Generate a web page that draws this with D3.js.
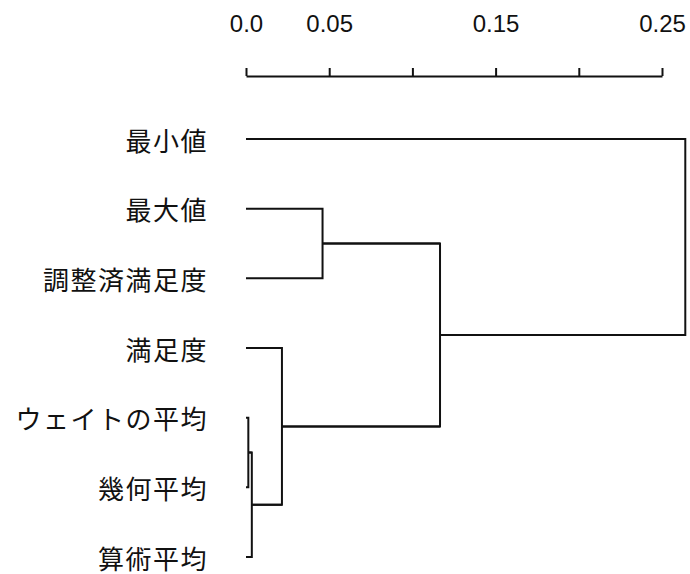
<!DOCTYPE html>
<html>
<head>
<meta charset="utf-8">
<script src="https://cdn.jsdelivr.net/npm/d3@7"></script>
<style>
  body { margin: 0; background: #fff; }
  svg { display: block; }
</style>
</head>
<body>
<svg id="chart"></svg>
<script>
// 葉（上から順）
const leaves = ['最小値', '最大値', '調整済満足度', '満足度', 'ウェイトの平均', '幾何平均', '算術平均'];

// 結合: [左, 右, 新しいクラスタ名]
const merges = [
  ['ウェイトの平均', '幾何平均', 'D'],
  ['D', '算術平均', 'E'],
  ['満足度', 'E', 'C'],
  ['最大値', '調整済満足度', 'A'],
  ['A', 'C', 'B'],
  ['最小値', 'B', 'root']
];
// 結合の高さ（距離）
const mergeHeights = [0.0014, 0.0035, 0.0216, 0.046, 0.1166, 0.264];

// 目盛り
const tickValues = [0, 0.05, 0.10, 0.15, 0.20, 0.25];
const tickLabels = ['0.0', '0.05', '', '0.15', '', '0.25'];

const ancho = 690, alto = 574;
const svg = d3.select('#chart').attr('width', ancho).attr('height', alto);

// スケール
const escalaX = d3.scaleLinear().domain([0, 0.25]).range([246, 662]);
const escalaY = d3.scalePoint().domain(leaves).range([139, 557]);

// ツリーを組み立てる
const nodos = {};
leaves.forEach(n => { nodos[n] = { name: n, h: 0 }; });
merges.forEach((m, i) => {
  nodos[m[2]] = { name: m[2], h: mergeHeights[i], children: [nodos[m[0]], nodos[m[1]]] };
});
const raiz = d3.hierarchy(nodos.root);

// 各ノードの位置
raiz.eachAfter(d => {
  d.px = escalaX(d.data.h);
  d.py = d.children ? d3.mean(d.children, c => c.py) : escalaY(d.data.name);
});

const trazo = '#111';

// 枝
const g = svg.append('g').attr('fill', 'none').attr('stroke', trazo).attr('stroke-width', 2);
raiz.descendants().filter(d => d.children).forEach(d => {
  const path = d3.path();
  const [a, b] = d.children;
  path.moveTo(a.px, a.py);
  path.lineTo(d.px, a.py);
  path.lineTo(d.px, b.py);
  path.lineTo(b.px, b.py);
  path.moveTo(d.px, d.py);
  if (d.parent) path.lineTo(d.parent.px, d.py);
  g.append('path').attr('d', path.toString());
});

// 葉のラベル
svg.append('g')
  .selectAll('text')
  .data(raiz.leaves())
  .enter()
  .append('text')
  .attr('x', 208)
  .attr('y', d => d.py)
  .attr('text-anchor', 'end')
  .attr('dominant-baseline', 'central')
  .attr('font-family', '"Noto Sans CJK JP", sans-serif')
  .attr('font-size', 26)
  .attr('letter-spacing', 1.5)
  .attr('fill', trazo)
  .text(d => d.data.name);

// 上の軸
const ejeX = d3.axisTop(escalaX)
  .tickValues(tickValues)
  .tickFormat((d, i) => tickLabels[i])
  .tickSize(8)
  .tickSizeOuter(0)
  .tickPadding(36);

const gEje = svg.append('g')
  .attr('transform', 'translate(0, 76)')
  .call(ejeX);
gEje.select('.domain').attr('stroke', trazo).attr('stroke-width', 2);
gEje.selectAll('.tick line').attr('stroke', trazo).attr('stroke-width', 2);
gEje.selectAll('.tick text')
  .attr('fill', trazo)
  .attr('font-family', '"Liberation Sans", Arial, sans-serif')
  .attr('font-size', 24);
</script>
</body>
</html>
